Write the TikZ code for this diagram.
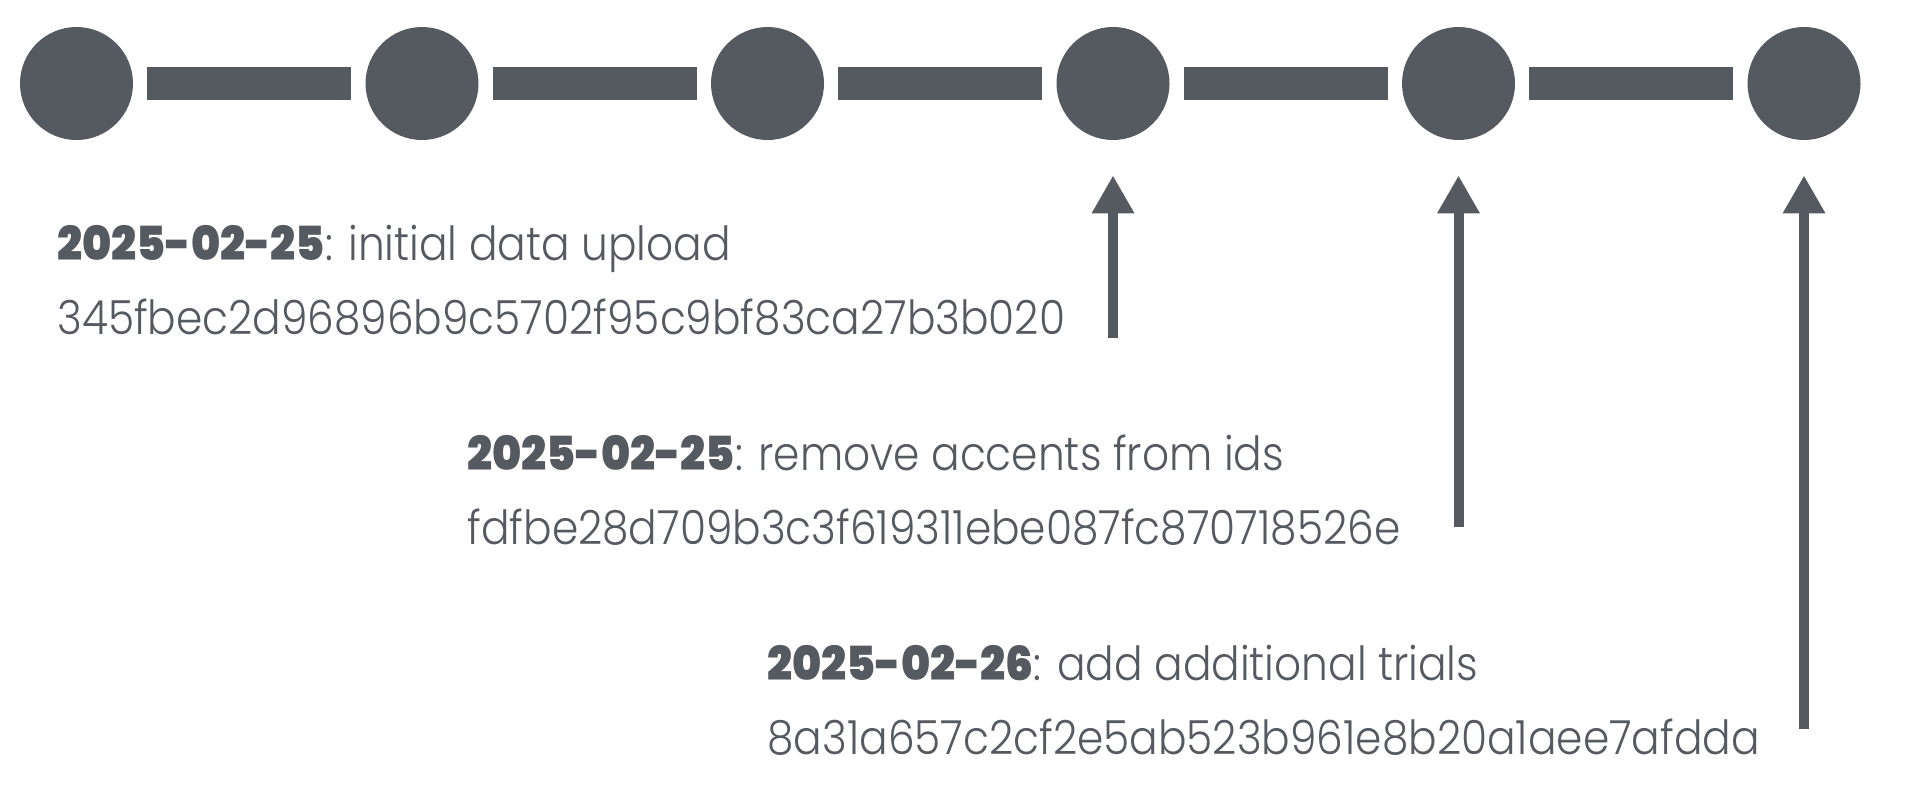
\documentclass[tikz,border=0pt]{standalone}
\usepackage{fontspec}
\setmainfont{Poppins}[UprightFont=* Light, BoldFont=* Black,
  UprightFeatures={FakeStretch=0.9}, BoldFeatures={FakeStretch=0.94}]
\usetikzlibrary{arrows.meta,positioning}
\definecolor{SlateGray}{RGB}{85,90,97}
\begin{document}
\begin{tikzpicture}[x=0.5pt,y=-0.5pt,
  commit/.style={circle,fill=SlateGray,minimum size=56.5pt,inner sep=0pt},
  link/.style={SlateGray,line width=16.5pt,shorten <=7pt,shorten >=7pt},
  pointer/.style={-{Triangle[length=19pt,width=20pt]},SlateGray,line width=5pt,shorten >=17.5pt},
  note/.style={anchor=base west,inner sep=0pt,text=SlateGray,font=\fontsize{23.5}{28}\selectfont}]
  \useasboundingbox (0,0) rectangle (1914,798);
  % history
  \foreach \i in {1,...,6}
    \node[commit] (c\i) at ({76.5+345.5*(\i-1)},83.5) {};
  \foreach \i/\j in {1/2,2/3,3/4,4/5,5/6}
    \draw[link] (c\i) -- (c\j);
  % commit messages
  \node[note] (d1) at (57,260) {\textbf{2025-02-25}: initial data upload};
  \node[note] (h1) at ([yshift=-37.25pt]d1.base west) {345fbec2d96896b9c5702f95c9bf83ca27b3b020};
  \node[note] (d2) at (467,470) {\textbf{2025-02-25}: remove accents from ids};
  \node[note] (h2) at ([yshift=-37.25pt]d2.base west) {fdfbe28d709b3c3f619311ebe087fc870718526e};
  \node[note] (d3) at (767,680) {\textbf{2025-02-26}: add additional trials};
  \node[note] (h3) at ([yshift=-37.25pt]d3.base west) {8a31a657c2cf2e5ab523b961e8b20a1aee7afdda};
  % pointers
  \coordinate (t1) at (c4 |- 0,338);
  \coordinate (t2) at (c5 |- 0,527);
  \coordinate (t3) at (c6 |- 0,729);
  \draw[pointer] (t1) -- (c4);
  \draw[pointer] (t2) -- (c5);
  \draw[pointer] (t3) -- (c6);
\end{tikzpicture}
\end{document}
